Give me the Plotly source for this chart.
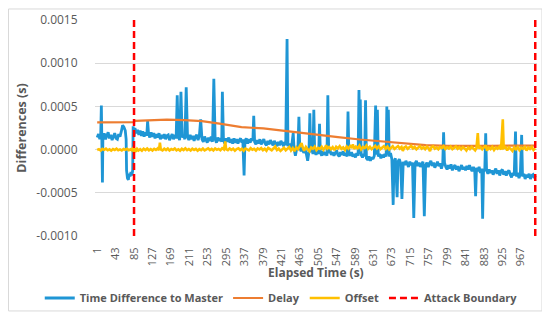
import plotly.graph_objects as go

# ---------------- data ----------------
# Time Difference to Master (s)
tdm_t = [1, 4, 7, 9, 10.5, 12, 13, 14, 17, 20, 23, 26, 29, 32, 35, 38, 41, 44, 47, 50, 53, 56, 59, 62, 65, 67,
         68, 70, 72, 74, 76, 78, 80, 82, 83, 85, 87, 90, 93, 96, 99, 102, 105, 108, 111, 114, 116, 118, 121, 124,
         127, 130, 133, 136, 139, 142, 145, 148, 151, 154, 157, 160, 163, 166, 169, 172, 175, 178, 181, 183.5,
         186, 189, 192, 195, 198, 201, 204, 207, 210, 213, 216, 219, 222, 225, 228, 231, 234, 237, 240, 243, 246,
         249, 252, 255, 258, 261, 264, 267, 270, 273, 276, 279, 282, 285, 286.5, 289, 292, 295, 298, 301, 304,
         307, 310, 313, 316, 319, 322, 325, 328, 331, 333, 336, 338, 341, 344, 347, 350, 353, 356, 358, 360, 363,
         366, 369, 372, 375, 378, 381, 384, 387, 390, 393, 396, 399, 402, 405, 408, 411, 414, 417, 420, 423, 426,
         429, 431, 434, 436, 439, 442, 445, 448, 450, 453, 456, 459, 461, 463, 466, 469, 472, 475, 478, 481, 484,
         486, 488, 491, 493, 495, 497, 500, 503, 506, 508, 510, 513, 516, 519, 522, 525, 527, 529, 532, 535, 538,
         541, 544, 547, 550, 553, 556, 559, 562, 565, 568, 571, 573, 575, 578, 581, 584, 587, 590, 593, 596, 598,
         600, 601, 603, 606, 609, 611, 613, 615, 618, 621, 624, 627, 630, 633, 636, 638, 640, 642, 645, 648, 651,
         654, 657, 660, 661.5, 663, 665, 667, 670, 673, 676, 678, 681, 685, 687, 690, 693, 696, 699, 702, 705, 708,
         711, 714, 717, 720, 723, 726, 729, 732, 735, 738, 741, 744, 747, 750, 753, 756, 759, 762, 765, 768, 771,
         774, 777, 780, 783, 786, 789, 791, 793, 796, 799, 802, 805, 808, 811, 814, 817, 820, 823, 826, 829, 832,
         835, 838, 841, 844, 847, 850, 853, 856, 859, 862, 864, 866, 869, 872, 875, 878, 880, 882, 885, 887, 889,
         892, 895, 898, 901, 904, 907, 910, 913, 916, 919, 922, 925, 928, 931, 934, 937, 940, 943, 946, 949, 952,
         955, 957, 960, 963, 966, 969, 971, 974, 977, 980, 983, 986, 989, 992, 995, 998, 1000]
tdm_v = [0.00014, 0.00018, 0.00012, 0.00016, 0.00051, 0.00011, -0.00038, 0.00015, 0.00019, 0.00012, 0.00016,
         0.00020, 0.00013, 0.00017, 0.00011, 0.00015, 0.00019, 0.00013, 0.00012, 0.00018, 0.00015, 0.00021,
         0.00028, 0.00026, 0.00022, 0.00012, -0.00024, -0.00033, -0.00035, -0.00028, -0.00031, -0.00026, -0.00030,
         -0.00024, 0.00027, 0.00015, 0.00025, 0.00019, 0.00023, 0.00017, 0.00022, 0.00016, 0.00021, 0.00015,
         0.00020, 0.00016, 0.00033, 0.00019, 0.00014, 0.00020, 0.00015, 0.00019, 0.00013, 0.00018, 0.00014,
         0.00019, 0.00012, 0.00017, 0.00013, 0.00018, 0.00012, 0.00016, 0.00017, 0.00011, 0.00016, 0.00018,
         0.00012, 0.00017, 0.00013, 0.00063, 0.00015, 0.00011, 0.00067, 0.00014, 0.00017, 0.00012, 0.00072,
         0.00015, 0.00011, 0.00017, 0.00012, 0.00016, 0.00010, 0.00015, 0.00017, 0.00011, 0.00016, 0.00035,
         0.00012, 0.00009, 0.00015, 0.00011, 0.00008, 0.00014, 0.00010, 0.00015, 0.00009, 0.00082, 0.00012,
         0.00008, 0.00014, 0.00010, 0.00013, 0.00009, 0.00067, 0.00011, 0.00007, 0.00013, 0.00009, 0.00014,
         0.00008, 0.00012, 0.00007, 0.00013, 0.00008, 0.00012, 0.00007, 0.00011, 0.00013, 0.00008, 0.00012,
         -0.00030, 0.00010, 0.00013, 0.00007, 0.00012, 0.00008, 0.00013, 0.00010, 0.00039, 0.00009, 0.00006,
         0.00011, 0.00007, 0.00012, 0.00006, 0.00009, 0.00012, 0.00007, 0.00005, 0.00010, 0.00006, 0.00011,
         0.00007, 0.00005, 0.00010, 0.00006, 0.00004, 0.00009, 0.00005, 0.00010, 0.00006, 0.00004, 0.00009,
         0.00005, 0.00128, 0.00004, 0.00007, 0.00002, 0.00006, 0.00019, 0.00001, -0.00007, 0.00001, 0.00005,
         0.00038, 0.00002, -0.00002, 0.00003, -0.00004, 0.00000, -0.00005, -0.00013, -0.00002, 0.00042, -0.00003,
         0.00001, -0.00005, 0.00046, -0.00002, -0.00006, -0.00002, -0.00005, 0.00030, -0.00003, -0.00007,
         -0.00002, -0.00006, -0.00003, -0.00007, 0.00063, -0.00004, -0.00001, -0.00006, -0.00003, -0.00007,
         -0.00004, -0.00001, -0.00006, -0.00008, -0.00003, -0.00006, -0.00002, -0.00007, -0.00004, -0.00008,
         0.00044, -0.00004, -0.00007, -0.00003, -0.00008, -0.00005, -0.00009, -0.00004, -0.00007, 0.00069,
         -0.00005, 0.00058, -0.00006, -0.00009, -0.00005, -0.00008, 0.00057, -0.00010, -0.00012, -0.00008,
         -0.00013, -0.00009, -0.00011, -0.00007, 0.00051, -0.00006, 0.00046, -0.00008, -0.00005, -0.00010,
         -0.00006, -0.00009, -0.00005, -0.00008, 0.00050, -0.00006, 0.00046, -0.00008, -0.00004, -0.00011,
         -0.00064, -0.00014, -0.00010, -0.00055, -0.00014, -0.00011, -0.00016, -0.00057, -0.00014, -0.00018,
         -0.00013, -0.00017, -0.00020, -0.00014, -0.00018, -0.00015, -0.00079, -0.00016, -0.00013, -0.00019,
         -0.00015, -0.00020, -0.00016, -0.00014, -0.00077, -0.00018, -0.00015, -0.00020, -0.00016, -0.00013,
         -0.00019, -0.00015, -0.00021, -0.00017, -0.00014, -0.00019, -0.00016, -0.00022, -0.00017, 0.00020,
         -0.00015, -0.00020, -0.00023, -0.00018, -0.00022, -0.00017, -0.00024, -0.00020, -0.00018, -0.00023,
         -0.00019, -0.00025, -0.00021, -0.00018, -0.00023, -0.00020, -0.00024, -0.00019, -0.00023, -0.00018,
         -0.00022, -0.00025, -0.00020, -0.00024, -0.00054, -0.00021, -0.00025, -0.00020, -0.00027, -0.00022,
         -0.00080, -0.00026, -0.00022, 0.00019, -0.00024, -0.00028, -0.00023, -0.00027, -0.00024, -0.00029,
         -0.00025, -0.00022, -0.00028, -0.00024, -0.00030, -0.00025, -0.00023, -0.00029, -0.00025, -0.00030,
         -0.00026, -0.00024, -0.00029, -0.00032, -0.00027, -0.00030, 0.00021, -0.00031, -0.00027, -0.00033,
         -0.00028, 0.00017, -0.00031, -0.00028, -0.00034, -0.00029, -0.00032, -0.00028, -0.00034, -0.00030,
         -0.00029, -0.00033, -0.00030]

# Delay (s)
delay_t = [1, 40, 84, 88, 120, 160, 200, 240, 280, 330, 380, 430, 470, 500, 550, 600, 650, 700, 750, 800,
           850, 900, 950, 1000]
delay_v = [0.000315, 0.000315, 0.000317, 0.000332, 0.000342, 0.000346, 0.000342, 0.000330, 0.000300,
           0.000260, 0.000245, 0.000215, 0.000185, 0.000170, 0.000145, 0.000117, 0.000097, 0.000072,
           0.000052, 0.000042, 0.000040, 0.000043, 0.000046, 0.000046]

# Offset (s)
off_t = [1, 5, 9, 13, 17, 21, 25, 29, 33, 37, 41, 45, 49, 53, 57, 61, 65, 69, 73, 77, 81, 83, 85, 87, 89, 92,
         95, 99, 103, 107, 111, 115, 119, 123, 127, 131, 135, 139, 142, 144, 146, 150, 154, 158, 162, 166, 170,
         174, 178, 182, 186, 190, 194, 198, 202, 206, 210, 214, 218, 222, 226, 230, 234, 238, 242, 246, 250, 254,
         258, 262, 266, 270, 274, 278, 282, 286, 290, 293, 295, 299, 303, 307, 311, 315, 319, 323, 327, 331, 335,
         339, 343, 347, 351, 355, 359, 363, 367, 371, 375, 379, 383, 387, 391, 395, 399, 403, 407, 411, 415, 419,
         423, 427, 431, 435, 439, 443, 447, 451, 455, 459, 463, 467, 470, 473, 477, 481, 485, 489, 493, 497, 501,
         505, 509, 513, 517, 521, 523, 526, 530, 534, 538, 542, 546, 550, 554, 558, 562, 566, 570, 574, 578, 582,
         584, 587, 591, 595, 599, 603, 607, 611, 615, 619, 623, 627, 631, 635, 639, 643, 647, 651, 655, 659, 663,
         667, 671, 675, 679, 683, 687, 691, 695, 698, 701, 705, 709, 713, 717, 721, 725, 729, 733, 737, 741, 745,
         749, 753, 757, 760, 763, 767, 771, 775, 779, 783, 787, 791, 795, 799, 803, 807, 811, 815, 819, 823, 827,
         831, 835, 839, 843, 847, 851, 855, 859, 863, 866, 869, 871, 875, 879, 883, 887, 890, 894, 898, 902, 906,
         910, 914, 918, 922, 926, 928, 932, 936, 940, 944, 948, 952, 956, 960, 964, 968, 972, 976, 980, 984, 988,
         992, 996, 1000]
off_v = [-0.000005, 0.000005, -0.000010, 0.000008, -0.000003, 0.000010, -0.000008, 0.000003, -0.000012,
         0.000006, -0.000004, 0.000011, -0.000007, 0.000002, -0.000010, 0.000007, -0.000002, 0.000009,
         -0.000006, 0.000004, -0.000015, 0.000030, -0.000035, 0.000015, -0.000025, 0.000008, -0.000010,
         0.000005, -0.000013, 0.000010, -0.000005, 0.000012, -0.000008, 0.000006, -0.000011, 0.000009,
         -0.000004, 0.000014, -0.000006, 0.000080, 0.000003, -0.000009, 0.000010, -0.000005, 0.000012,
         -0.000010, 0.000006, -0.000003, 0.000013, -0.000008, 0.000004, -0.000012, 0.000009, -0.000005,
         0.000014, -0.000007, 0.000006, -0.000011, 0.000010, -0.000004, 0.000008, -0.000013, 0.000005,
         -0.000006, 0.000012, -0.000009, 0.000003, 0.000015, -0.000005, 0.000009, -0.000010, 0.000013,
         -0.000002, 0.000008, -0.000007, 0.000016, 0.000002, 0.000095, 0.000005, -0.000006, 0.000014,
         -0.000003, 0.000010, -0.000012, 0.000007, 0.000015, -0.000005, 0.000009, -0.000014, 0.000012,
         0.000003, -0.000008, 0.000016, -0.000002, 0.000008, -0.000011, 0.000013, 0.000001, 0.000018,
         -0.000006, 0.000010, -0.000013, 0.000020, 0.000002, -0.000009, 0.000014, 0.000035, -0.000005,
         0.000011, -0.000015, 0.000008, 0.000022, -0.000007, 0.000015, 0.000030, -0.000010, 0.000018,
         -0.000018, 0.000024, 0.000005, 0.000045, 0.000075, 0.000020, -0.000012, 0.000030, 0.000005,
         -0.000020, 0.000025, 0.000010, 0.000035, -0.000005, 0.000020, 0.000008, 0.000032, -0.000003,
         0.000026, 0.000050, 0.000012, 0.000030, 0.000005, 0.000028, -0.000006, 0.000033, 0.000015,
         0.000040, 0.000009, 0.000025, -0.000004, 0.000036, 0.000012, 0.000042, 0.000020, 0.000060,
         0.000008, 0.000034, 0.000016, 0.000045, 0.000002, 0.000030, 0.000018, 0.000048, 0.000010,
         0.000032, 0.000005, 0.000029, 0.000044, 0.000014, 0.000038, 0.000006, 0.000027, 0.000040,
         0.000010, 0.000035, 0.000002, 0.000024, 0.000039, 0.000008, 0.000026, 0.000041, 0.000012,
         0.000030, -0.000015, 0.000022, 0.000036, 0.000009, 0.000028, 0.000043, 0.000015, 0.000031,
         0.000004, 0.000025, 0.000040, 0.000011, 0.000029, 0.000006, 0.000033, 0.000014, -0.000018,
         0.000026, 0.000038, 0.000010, 0.000024, 0.000003, 0.000031, 0.000017, 0.000039, 0.000008,
         0.000027, 0.000012, 0.000035, 0.000005, 0.000022, 0.000037, 0.000010, 0.000028, 0.000002,
         0.000030, 0.000014, -0.000010, 0.000025, 0.000007, 0.000032, 0.000011, -0.000008, 0.000020,
         0.000190, 0.000015, 0.000030, 0.000004, 0.000026, 0.000050, -0.000012, 0.000022, 0.000006,
         0.000031, -0.000005, 0.000024, 0.000010, 0.000033, 0.000002, 0.000350, 0.000018, 0.000030,
         -0.000008, 0.000025, 0.000009, -0.000015, 0.000027, 0.000004, 0.000030, -0.000006, 0.000022,
         0.000010, 0.000031, -0.000010, 0.000024, 0.000007, 0.000029, -0.000004, 0.000015]

# Attack boundaries (elapsed time, s)
attack_t = [85, 1000]

# Axis ticks
x_tick_vals = [1, 43, 85, 127, 169, 211, 253, 295, 337, 379, 421, 463, 505, 547, 589, 631, 673, 715, 757, 799,
               841, 883, 925, 967]
x_tick_text = ["1", "43", "85", "127", "169", "211", "253", "295", "337", "379", "421", "463", "505", "547",
               "589", "631", "673", "715", "757", "799", "841", "883", "925", "967"]
y_tick_vals = [-0.0010, -0.0005, 0.0, 0.0005, 0.0010, 0.0015]
y_tick_text = ["-0.0010", "-0.0005", "0.0000", "0.0005", "0.0010", "0.0015"]

y_min, y_max = -0.0010, 0.0015

# ---------------- figure ----------------
BLUE = "#1F96D5"
ORANGE = "#ED7D31"
GOLD = "#FFC000"
RED = "#FF0000"
GRID = "#D9D9D9"
TXT = "#595959"
FONT = "Open Sans"

fig = go.Figure()
fig.add_trace(go.Scatter(x=tdm_t, y=tdm_v, mode="lines", name="Time Difference to Master",
                         line=dict(color=BLUE, width=2.8)))
fig.add_trace(go.Scatter(x=delay_t, y=delay_v, mode="lines", name="Delay",
                         line=dict(color=ORANGE, width=2.2)))
fig.add_trace(go.Scatter(x=off_t, y=off_v, mode="lines", name="Offset",
                         line=dict(color=GOLD, width=2.6)))
for i, a in enumerate(attack_t):
    fig.add_trace(go.Scatter(x=[a, a], y=[y_min, y_max], mode="lines", name="Attack Boundary",
                             legendgroup="attack", showlegend=(i == 0), cliponaxis=False,
                             line=dict(color=RED, width=2.5, dash="7px,4px")))

# The page body adds an 8px margin, so the figure is 8px smaller and shifted accordingly.
fig.update_layout(
    width=542, height=313,
    margin=dict(l=87, r=13, t=12, b=85, autoexpand=False),
    paper_bgcolor="white", plot_bgcolor="white",
    font=dict(family=FONT, color=TXT, size=11),
    showlegend=True,
    legend=dict(orientation="h", xref="paper", yref="paper", x=-0.125, xanchor="left",
                y=-0.287, yanchor="middle",
                font=dict(size=11, color=TXT, weight="bold"), itemwidth=30, tracegroupgap=0,
                bgcolor="rgba(0,0,0,0)"),
    shapes=[dict(type="rect", xref="paper", yref="paper", x0=-0.1957, x1=1.0113, y0=-0.347, y1=1.051,
                 line=dict(color=GRID, width=1), fillcolor="rgba(0,0,0,0)", layer="below")],
    annotations=[dict(text="Elapsed Time (s)", xref="paper", yref="paper", x=0.5, y=-0.1667,
                      xanchor="center", yanchor="middle", showarrow=False,
                      font=dict(size=12, color=TXT, weight="bold", family=FONT))],
)
fig.update_xaxes(range=[-4, 1004], tickvals=x_tick_vals, ticktext=x_tick_text, tickangle=-90,
                 showgrid=False, zeroline=False, showline=False, automargin=False,
                 ticks="outside", ticklen=6, tickcolor="rgba(0,0,0,0)",
                 tickfont=dict(size=11, color=TXT, family=FONT))
fig.update_yaxes(range=[y_min, y_max], tickvals=y_tick_vals, ticktext=y_tick_text,
                 showgrid=True, gridcolor=GRID, gridwidth=1, zeroline=False, showline=False, automargin=False,
                 ticks="outside", ticklen=14, tickcolor="rgba(0,0,0,0)",
                 tickfont=dict(size=12, color=TXT, family=FONT),
                 title=dict(text="Differences (s)", font=dict(size=12.5, color=TXT, weight="bold"), standoff=6))

fig.write_html("out.html")
